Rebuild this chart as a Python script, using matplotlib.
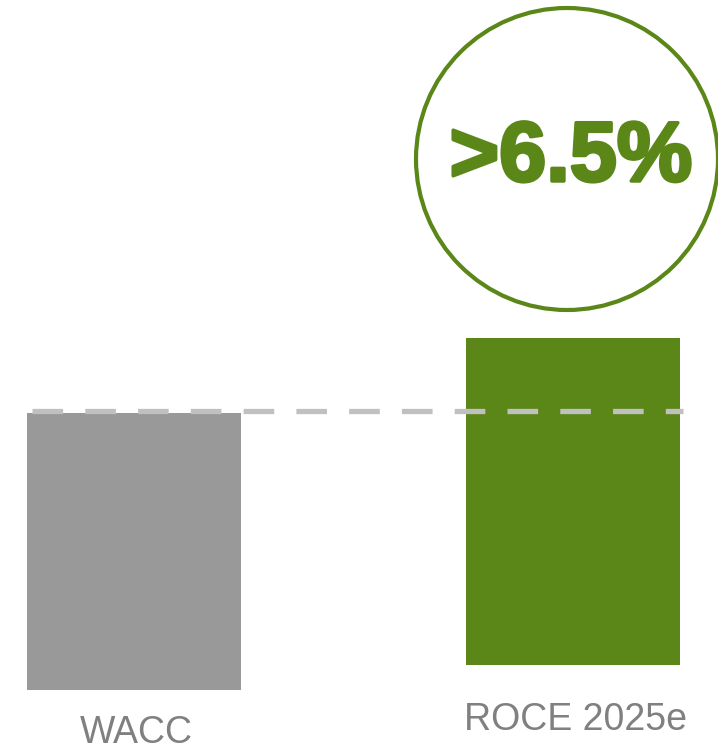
import matplotlib
matplotlib.use("Agg")
import matplotlib.pyplot as plt
from matplotlib.patches import Circle
import matplotlib.patheffects as pe

# Data
categories = ["WACC", "ROCE 2025e"]
values = [5.5, 6.5]          # % return
callout_text = ">6.5%"

# Styling
bar_colors = ["#999999", "#5b8719"]
label_color = "#808080"
dash_color = "#c0c0c0"
green = "#5b8719"

W, H, DPI = 718, 751, 100
fig = plt.figure(figsize=(W / DPI, H / DPI), dpi=DPI)
ax = fig.add_axes([0, 0, 1, 1])
ax.set_axis_off()

# scale: pixels per percentage point, baseline position
px_per_unit = 50.3
base_px = 61            # baseline distance from bottom of figure
ax.set_ylim(-base_px / px_per_unit, (H - base_px) / px_per_unit)
spacing_px = 439
left_center_px = 134
ax.set_xlim(-left_center_px / spacing_px, (W - left_center_px) / spacing_px)

bar_width = 214 / spacing_px
bottoms = [0.0, 0.5]    # ROCE bar sits slightly higher
xs = list(range(len(categories)))
ax.bar(xs, values, width=bar_width, bottom=bottoms, color=bar_colors,
       edgecolor="none", zorder=2)

# reference line at WACC level
ax.axhline(values[0] + bottoms[0] + 0.04, xmin=32 / W, xmax=683 / W,
           color=dash_color, lw=3.8, dashes=(5.8, 4.2), zorder=3)

# category labels under the bars
label_y = [-53 / px_per_unit, -40 / px_per_unit]
for x, lab, ly in zip(xs, categories, label_y):
    ax.text(x + 2 / spacing_px, ly, lab, ha="center", va="baseline",
            fontsize=27, color=label_color, family="Liberation Sans")

# callout circle above the ROCE bar
circ = Circle((567 / DPI, (H - 159) / DPI), 1.51, transform=fig.dpi_scale_trans,
              fill=False, edgecolor=green, lw=3.0, clip_on=False)
fig.patches.append(circ)
fig.text(571 / W, 1 - 159 / H, callout_text, ha="center", va="center",
         fontsize=61, fontweight="bold", color=green, family="Liberation Sans",
         path_effects=[pe.withStroke(linewidth=2.5, foreground=green)])

fig.savefig("out.png", dpi=DPI)
